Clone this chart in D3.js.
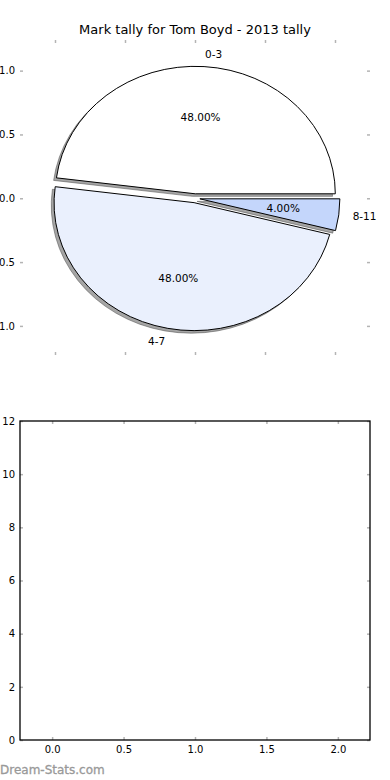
<!DOCTYPE html>
<html>
<head>
<meta charset="utf-8">
<script src="https://cdn.jsdelivr.net/npm/d3@7"></script>
<style>
  html, body { margin: 0; padding: 0; background: #fff; }
  svg { display: block; font-family: "DejaVu Sans", sans-serif; }
</style>
</head>
<body>
<svg id="chart" width="390" height="780"></svg>
<script>
// ---- data ----
const title = "Mark tally for Tom Boyd - 2013 tally";
const categories = ["0-3", "4-7", "8-11"];
const counts = [12, 12, 1];
const explode = [0.035, 0.035, 0.035];
const sliceColors = ["#ffffff", "#eaf0fd", "#c4d6fb"];
const pieTicks = [-1, -0.5, 0, 0.5, 1];
const barXTicks = [0, 0.5, 1, 1.5, 2];
const barYTicks = [0, 2, 4, 6, 8, 10, 12];
const watermark = "Dream-Stats.com";

const svg = d3.select("#chart");
const tickGray = "#b4b4b4";

// title
svg.append("text").attr("x", 195).attr("y", 34).attr("text-anchor", "middle")
  .attr("font-size", 13).attr("fill", "#000").text(title);

// ---- pie axes ----
const sx = d3.scaleLinear().domain([-1.25, 1.25]).range([20, 370]);
const sy = d3.scaleLinear().domain([-1.228, 1.24]).range([355, 40]);
const kx = sx(1) - sx(0), ky = sy(0) - sy(1);

function styleAxis(g, labels) {
  g.select(".domain").remove();
  g.selectAll(".tick line").attr("stroke", tickGray).attr("stroke-width", 1.5);
  g.selectAll(".tick text").attr("fill", "#000").attr("font-size", 10)
    .attr("font-family", "DejaVu Sans, sans-serif");
  if (!labels) g.selectAll(".tick text").remove();
}

svg.append("g").attr("transform", "translate(20,0)")
  .call(d3.axisLeft(sy).tickValues(pieTicks).tickSize(-3).tickPadding(5).tickFormat(d3.format(".1f")))
  .call(g => styleAxis(g, true));
svg.append("g").attr("transform", "translate(370,0)")
  .call(d3.axisRight(sy).tickValues(pieTicks).tickSize(-3))
  .call(g => styleAxis(g, false));
svg.append("g").attr("transform", "translate(0,40)")
  .call(d3.axisTop(sx).tickValues(pieTicks).tickSize(-3))
  .call(g => styleAxis(g, false));
svg.append("g").attr("transform", "translate(0,355)")
  .call(d3.axisBottom(sx).tickValues(pieTicks).tickSize(-3))
  .call(g => styleAxis(g, false));

const total = d3.sum(counts);
let cum = 0;
const slices = counts.map((c, i) => {
  const t1 = 2 * Math.PI * cum / total;
  cum += c;
  const t2 = 2 * Math.PI * cum / total;
  const tm = (t1 + t2) / 2;
  return {
    i, label: categories[i], frac: c / total, t1, t2, tm,
    ox: explode[i] * Math.cos(tm), oy: explode[i] * Math.sin(tm)
  };
});

const arc = d3.arc().innerRadius(0).outerRadius(1);
const arcD = s => arc({ startAngle: Math.PI / 2 - s.t2, endAngle: Math.PI / 2 - s.t1 });

// shadows
const shadowG = svg.append("g");
slices.forEach(s => {
  shadowG.append("path")
    .attr("transform", `translate(${sx(s.ox - 0.02)},${sy(s.oy - 0.02)}) scale(${kx},${ky})`)
    .attr("d", arcD(s))
    .attr("fill", "rgb(76,76,76)").attr("fill-opacity", 0.5)
    .attr("stroke", "rgb(76,76,76)").attr("stroke-opacity", 0.5)
    .attr("stroke-width", 1).attr("vector-effect", "non-scaling-stroke");
});
// wedges
slices.forEach(s => {
  svg.append("path")
    .attr("transform", `translate(${sx(s.ox)},${sy(s.oy)}) scale(${kx},${ky})`)
    .attr("d", arcD(s))
    .attr("fill", sliceColors[s.i])
    .attr("stroke", "#000").attr("stroke-width", 1)
    .attr("vector-effect", "non-scaling-stroke")
    .attr("stroke-linejoin", "round");
});
// labels
slices.forEach(s => {
  const xt = s.ox + 1.1 * Math.cos(s.tm), yt = s.oy + 1.1 * Math.sin(s.tm);
  svg.append("text").attr("x", sx(xt)).attr("y", sy(yt))
    .attr("text-anchor", xt > 0 ? "start" : "end").attr("dominant-baseline", "central")
    .attr("font-size", 10.5).text(s.label);
  const xp = s.ox + 0.6 * Math.cos(s.tm), yp = s.oy + 0.6 * Math.sin(s.tm);
  svg.append("text").attr("x", sx(xp)).attr("y", sy(yp))
    .attr("text-anchor", "middle").attr("dominant-baseline", "central")
    .attr("font-size", 10.5).text(d3.format(".2f")(s.frac * 100) + "%");
});

// ---- lower (empty) axes ----
const bx = d3.scaleLinear().domain([-0.225, 2.225]).range([20, 370]);
const by = d3.scaleLinear().domain([0, 12]).range([740, 421]);

svg.append("g").attr("transform", "translate(0,740)")
  .call(d3.axisBottom(bx).tickValues(barXTicks).tickSize(-3).tickPadding(6).tickFormat(d3.format(".1f")))
  .call(g => styleAxis(g, true));
svg.append("g").attr("transform", "translate(0,421)")
  .call(d3.axisTop(bx).tickValues(barXTicks).tickSize(-3))
  .call(g => styleAxis(g, false));
svg.append("g").attr("transform", "translate(20,0)")
  .call(d3.axisLeft(by).tickValues(barYTicks).tickSize(-3).tickPadding(5).tickFormat(d3.format("d")))
  .call(g => styleAxis(g, true));
svg.append("g").attr("transform", "translate(370,0)")
  .call(d3.axisRight(by).tickValues(barYTicks).tickSize(-3))
  .call(g => styleAxis(g, false));

svg.append("rect").attr("x", bx.range()[0]).attr("y", by.range()[1])
  .attr("width", bx.range()[1] - bx.range()[0]).attr("height", by.range()[0] - by.range()[1])
  .attr("fill", "none").attr("stroke", "#000").attr("stroke-width", 1.3);

// watermark
svg.append("text").attr("x", 0).attr("y", 774).attr("font-size", 12)
  .attr("fill", "#999").attr("stroke", "#999").attr("stroke-width", 0.3).text(watermark);
</script>
</body>
</html>
